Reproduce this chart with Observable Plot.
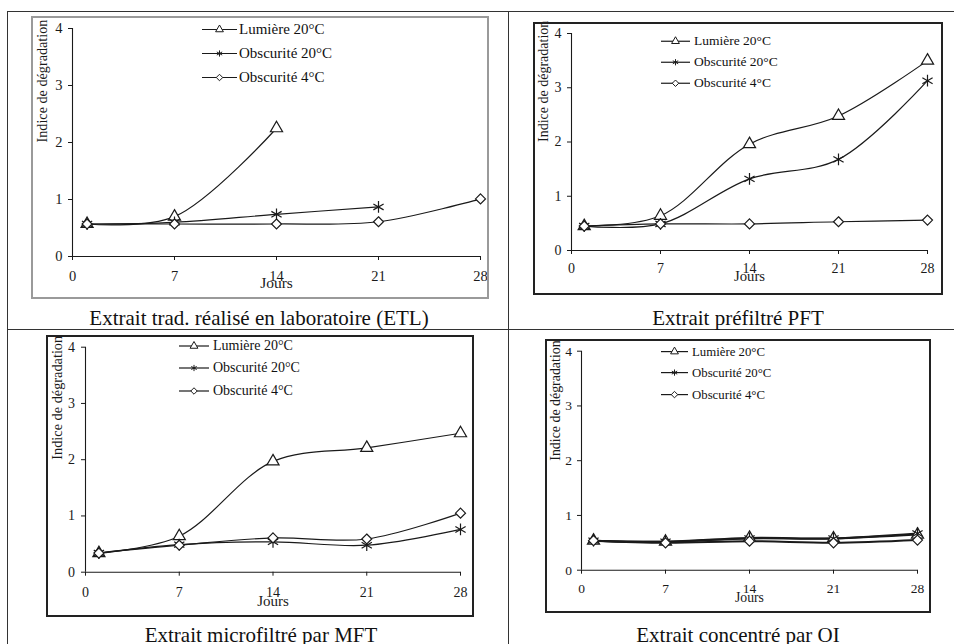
<!DOCTYPE html>
<html><head><meta charset="utf-8">
<script src="https://cdn.jsdelivr.net/npm/d3@7"></script>
<script src="https://cdn.jsdelivr.net/npm/@observablehq/plot@0.6"></script>
<style>
body{margin:0;background:#fff;}
#page{position:relative;width:954px;height:644px;overflow:hidden;font-family:"Liberation Serif","Times New Roman",serif;color:#111;background:#fff;}
.rule{position:absolute;background:#333;}
.wrap{position:absolute;}
.wrap svg{display:block;}
.border{position:absolute;box-sizing:border-box;pointer-events:none;}
.cap{position:absolute;white-space:nowrap;transform:translate(-50%,-50%);font-size:21px;line-height:1;}
.leg{position:absolute;white-space:nowrap;display:flex;align-items:center;transform:translateY(-50%);line-height:1;}
.leg svg{display:block;overflow:visible;}
</style></head><body><div id="page"></div>
<script>
// ---- data ----
const days = [1, 7, 14, 21, 28];
const seriesNames = ["Lumière 20°C", "Obscurité 20°C", "Obscurité 4°C"];
const xTicks = [0, 7, 14, 21, 28];
const yTicks = [0, 1, 2, 3, 4];
const xLabel = "Jours";
const yLabel = "Indice de dégradation";
const panelTitles = [
  "Extrait trad. réalisé en laboratoire (ETL)",
  "Extrait préfiltré PFT",
  "Extrait microfiltré par MFT",
  "Extrait concentré par OI"
];
const etlLumiere  = [0.57, 0.70, 2.25, null, null];
const etlObscur20 = [0.57, 0.60, 0.74, 0.87, null];
const etlObscur4  = [0.57, 0.57, 0.57, 0.61, 1.01];
const pftLumiere  = [0.45, 0.64, 1.96, 2.48, 3.50];
const pftObscur20 = [0.45, 0.49, 1.32, 1.68, 3.13];
const pftObscur4  = [0.45, 0.49, 0.49, 0.53, 0.56];
const mftLumiere  = [0.34, 0.64, 1.97, 2.21, 2.47];
const mftObscur20 = [0.34, 0.49, 0.54, 0.48, 0.76];
const mftObscur4  = [0.34, 0.48, 0.61, 0.59, 1.05];
const oiLumiere   = [0.54, 0.52, 0.59, 0.58, 0.65];
const oiObscur20  = [0.54, 0.52, 0.58, 0.58, 0.67];
const oiObscur4   = [0.54, 0.50, 0.53, 0.50, 0.55];

const panelValues = [
  [etlLumiere, etlObscur20, etlObscur4],
  [pftLumiere, pftObscur20, pftObscur4],
  [mftLumiere, mftObscur20, mftObscur4],
  [oiLumiere, oiObscur20, oiObscur4]
];

// ---- layout (page pixel positions) ----
const layouts = [
  {box:[31,16,458,283], border:"#9a9a9a", x0:72, x28:480, y4:28, y0:256, tickFont:14.5, xLabDy:19.5, yLabDx:-10,
   joursY:287, joursFont:15.5, labelFont:14.2, ylabX:42, lineW:1.2,
   legend:{l0:202, l1:237, tx:239, rows:[29,53,77], font:15}, cap:[259,318]},
  {box:[533,22,410,273], border:"#222", x0:571, x28:927, y4:33, y0:250, tickFont:14, xLabDy:18, yLabDx:-10,
   joursY:280, joursFont:14.7, labelFont:14, ylabX:543, lineW:1.2,
   legend:{l0:661, l1:690, tx:694, rows:[41,62,83], font:13.5}, cap:[738,318]},
  {box:[46,335,428,282], border:"#222", x0:85, x28:460, y4:346.7, y0:571.7, tickFont:14, xLabDy:20.5, yLabDx:-10.5,
   joursY:605, joursFont:15, labelFont:14.3, ylabX:57, lineW:1.2,
   legend:{l0:179, l1:209, tx:213, rows:[346,368,391], font:14}, cap:[261,635]},
  {box:[545,339,386,274], border:"#222", x0:581, x28:917, y4:350.7, y0:569.7, tickFont:13.5, xLabDy:18.5, yLabDx:-9.5,
   joursY:601, joursFont:13.7, labelFont:13.9, ylabX:555, lineW:2,
   legend:{l0:661, l1:688, tx:692, rows:[351.7,373,394.7], font:12.8}, cap:[738,635]}
];

const symbols = ["triangle", "asterisk", "diamond2"];
const symbolR = [4.5, 5.6, 4.5];
const d3Symbols = [d3.symbolTriangle, d3.symbolAsterisk, d3.symbolDiamond2];
const ink = "#1a1a1a";
const serif = '"Liberation Serif","Times New Roman",serif';
const page = document.getElementById("page");

function addDiv(cls, style, html) {
  const d = document.createElement("div");
  d.className = cls;
  Object.assign(d.style, style);
  if (html != null) d.innerHTML = html;
  page.appendChild(d);
  return d;
}

// table rules
addDiv("rule", {left:"7px", top:"11px", width:"947px", height:"1px"});
addDiv("rule", {left:"7px", top:"11px", width:"1px", height:"633px"});
addDiv("rule", {left:"7px", top:"329px", width:"947px", height:"1px"});
addDiv("rule", {left:"508px", top:"11px", width:"1px", height:"633px"});

layouts.forEach((cfg, p) => {
  const [bx, by, W, H] = cfg.box;
  const values = panelValues[p];
  const rowsBySeries = seriesNames.map((s, i) =>
    days.map((d, j) => ({day: d, value: values[i][j], series: s})).filter(r => r.value != null));
  const allRows = rowsBySeries.flat();
  const mL = cfg.x0 - bx, mR = bx + W - cfg.x28, mT = cfg.y4 - by, mB = by + H - cfg.y0;

  const chart = Plot.plot({
    width: W, height: H,
    marginLeft: mL, marginRight: mR, marginTop: mT, marginBottom: mB,
    x: {domain: [0, 28]},
    y: {domain: [0, 4]},
    style: {fontFamily: serif, fontSize: cfg.tickFont + "px", color: ink, background: "transparent", overflow: "visible"},
    marks: [
      Plot.axisX({ticks: xTicks, tickSize: 4, label: null, tickFormat: () => ""}),
      Plot.axisY({ticks: yTicks, tickSize: 4, label: null, tickFormat: () => ""}),
      Plot.text(xTicks, {x: d => d, text: d => String(d), frameAnchor: "bottom", lineAnchor: "middle", dy: cfg.xLabDy, fontSize: cfg.tickFont, fill: ink}),
      Plot.text(yTicks, {y: d => d, text: d => String(d), frameAnchor: "left", textAnchor: "end", lineAnchor: "middle", dx: cfg.yLabDx, fontSize: cfg.tickFont, fill: ink}),
      Plot.ruleX([0], {stroke: ink, strokeWidth: 1.1}),
      Plot.ruleY([0], {stroke: ink, strokeWidth: 1.1}),
      Plot.line(allRows, {x: "day", y: "value", z: "series", curve: "catmull-rom", stroke: ink, strokeWidth: cfg.lineW}),
      ...rowsBySeries.map((rows, i) => Plot.dot(rows, {x: "day", y: "value", symbol: symbols[i], r: symbolR[i], fill: i === 1 ? "none" : "white", stroke: ink, strokeWidth: 1.2})),
      Plot.text([xLabel], {text: d => d, frameAnchor: "bottom", dy: cfg.joursY - cfg.y0, fontSize: cfg.joursFont, fill: ink}),
      Plot.text([yLabel], {text: d => d, frameAnchor: "left", rotate: -90, dx: cfg.ylabX - cfg.x0, fontSize: cfg.labelFont, fill: ink})
    ]
  });
  const wrap = addDiv("wrap", {left: bx + "px", top: by + "px", width: W + "px", height: H + "px"});
  wrap.appendChild(chart);
  addDiv("border", {left: bx + "px", top: by + "px", width: W + "px", height: H + "px", border: "2px solid " + cfg.border});

  // legend
  const lg = cfg.legend;
  const lw = lg.l1 - lg.l0;
  seriesNames.forEach((s, i) => {
    const sym = d3.symbol(d3Symbols[i], Math.PI * 2.9 * 2.9)();
    const fill = i === 1 ? "none" : "white";
    const svg = `<svg width="${lw}" height="10" viewBox="0 -5 ${lw} 10"><line x1="0" x2="${lw}" y1="0" y2="0" stroke="${ink}" stroke-width="1.2"/><path d="${sym}" transform="translate(${lw/2},0)" fill="${fill}" stroke="${ink}" stroke-width="1"/></svg>`;
    addDiv("leg", {left: lg.l0 + "px", top: lg.rows[i] + "px", fontSize: lg.font + "px"},
      svg + `<span style="margin-left:${lg.tx - lg.l1}px">${s}</span>`);
  });

  addDiv("cap", {left: cfg.cap[0] + "px", top: cfg.cap[1] + "px"}, panelTitles[p]);
});
</script></body></html>
